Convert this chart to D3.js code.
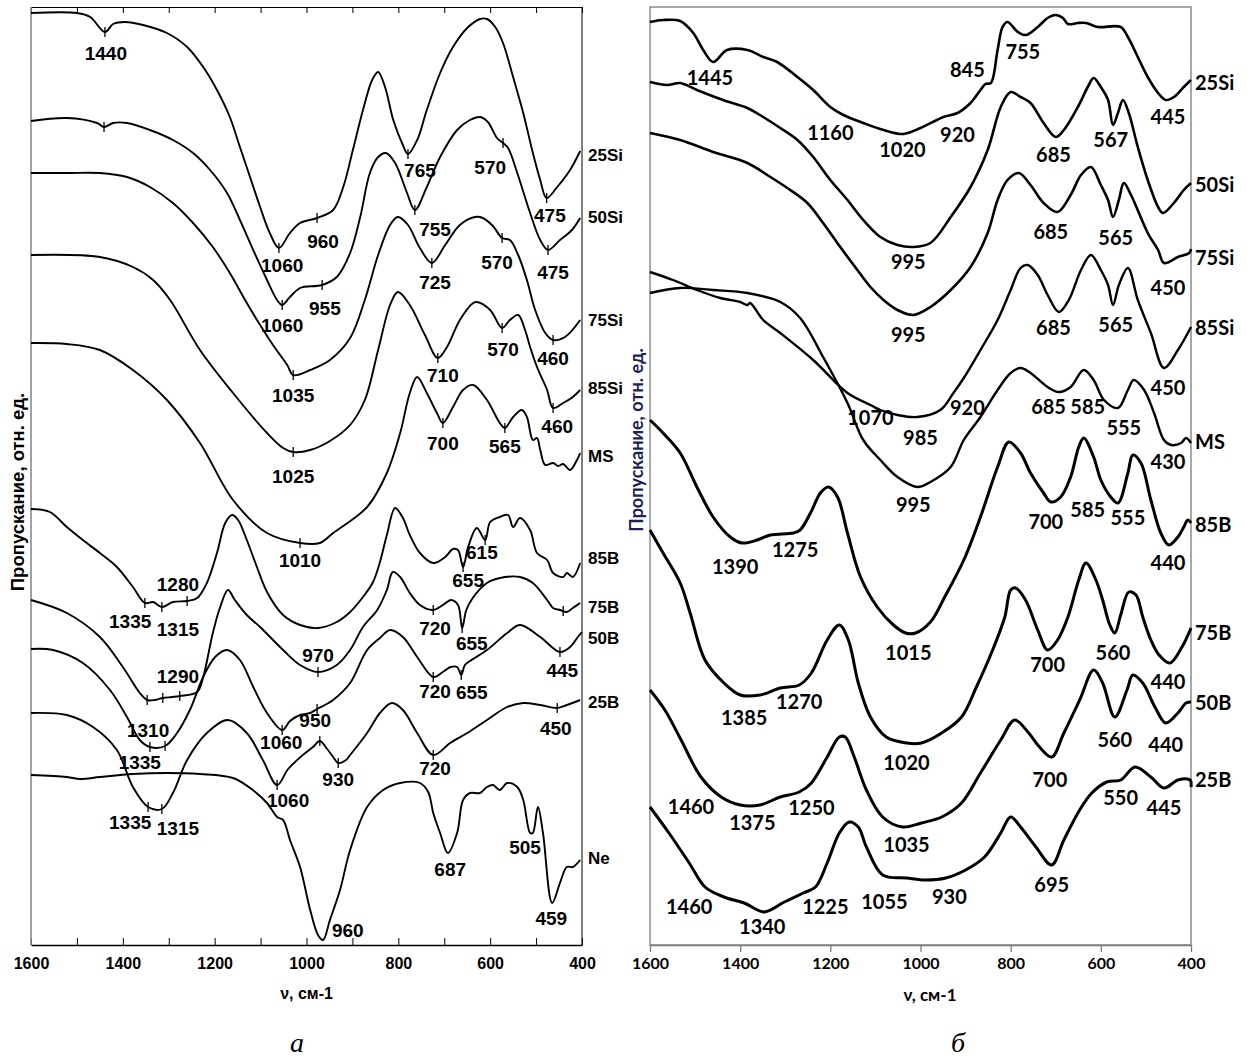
<!DOCTYPE html>
<html>
<head>
<meta charset="utf-8">
<script src="https://cdn.jsdelivr.net/npm/d3@7"></script>
<style>
  body { margin: 0; background: #fff; }
  svg { display: block; }
</style>
</head>
<body>
<div id="chart"></div>
<script>
// wavenumber (cm-1) / transmission (rel. units) pairs

// ---- panel a
const a25Si = [[1600,93.2],[1500,93.2],[1471,92.8],[1439,91.3],[1421,92.1],[1395,92.3],[1356,92.0],[1304,91.2],[1260,89.8],[1225,87.8],[1195,85.5],[1167,82.8],[1145,79.8],[1123,76.8],[1101,73.8],[1080,71.2],[1060,69.7],[1036,71.2],[1014,72.2],[977,72.7],[942,73.5],[920,75.8],[899,79.5],[877,83.5],[857,86.5],[844,87.3],[829,85.8],[811,82.5],[792,80.2],[779,79.1],[759,80.5],[738,83.5],[709,87.2],[681,89.8],[650,91.7],[622,92.6],[607,92.6],[589,91.8],[572,90.2],[550,86.8],[528,83.2],[507,79.2],[491,76.5],[477,74.7],[454,75.8],[426,77.5],[404,79.4]];
const a50Si = [[1600,82.4],[1522,82.7],[1456,82.2],[1441,81.8],[1421,82.2],[1391,82.2],[1341,81.5],[1291,80.5],[1247,79.2],[1210,77.5],[1173,75.2],[1145,72.5],[1116,69.5],[1086,66.5],[1064,64.5],[1053,64.0],[1036,64.8],[1014,65.7],[966,66.0],[934,66.8],[905,69.2],[883,72.8],[862,77.2],[844,78.8],[827,79.2],[807,78.2],[781,75.2],[764,73.5],[738,75.8],[709,78.8],[672,81.5],[644,82.5],[622,82.8],[605,82.3],[585,80.7],[572,80.2],[561,79.7],[541,77.2],[513,73.2],[491,70.5],[474,69.5],[448,70.5],[422,71.5],[404,72.7]];
const a75Si = [[1600,77.2],[1522,77.2],[1450,77.2],[1391,76.8],[1341,75.8],[1291,74.2],[1247,72.2],[1204,69.8],[1167,67.2],[1130,64.2],[1101,62.0],[1073,60.0],[1042,58.0],[1029,57.0],[992,57.5],[949,58.5],[905,60.7],[873,64.5],[844,69.0],[818,72.0],[801,72.8],[779,72.0],[753,69.7],[727,68.2],[698,70.0],[666,72.0],[633,72.8],[616,72.7],[594,71.9],[574,70.7],[557,70.5],[539,69.0],[520,66.5],[502,63.5],[480,61.2],[463,60.5],[437,60.8],[404,62.5]];
const a85Si = [[1600,69.0],[1450,68.8],[1378,67.8],[1334,66.5],[1297,64.5],[1232,59.5],[1160,55.2],[1086,51.2],[1051,49.7],[1029,49.3],[992,49.5],[949,50.4],[905,52.0],[873,54.5],[844,59.5],[818,64.0],[801,65.3],[775,64.0],[742,61.0],[714,58.7],[694,59.8],[666,62.5],[637,64.2],[629,64.3],[600,63.5],[574,61.7],[557,62.5],[539,63.0],[524,61.5],[513,59.8],[498,57.8],[476,55.5],[463,53.7],[441,54.2],[420,54.8],[404,55.5]];
const aMS = [[1600,60.2],[1522,60.1],[1450,59.5],[1378,57.5],[1304,54.5],[1232,50.2],[1160,44.5],[1086,41.2],[1014,40.2],[971,40.2],[942,41.2],[868,43.8],[825,47.2],[796,51.2],[775,55.2],[759,56.8],[738,55.2],[716,53.2],[703,52.2],[681,53.8],[659,55.5],[637,56.0],[607,54.5],[579,52.2],[568,51.7],[550,52.8],[531,53.5],[520,52.8],[507,50.5],[498,50.7],[491,49.5],[480,48.0],[463,48.2],[452,47.9],[441,48.1],[426,47.5],[411,48.5],[404,49.2]];
const a85B = [[1600,43.6],[1559,43.3],[1522,41.8],[1487,40.5],[1450,39.2],[1413,37.8],[1378,35.8],[1352,34.2],[1334,34.3],[1315,33.8],[1291,34.3],[1260,34.4],[1238,34.7],[1217,36.2],[1195,39.2],[1177,42.2],[1162,43.0],[1149,42.5],[1130,40.5],[1108,37.8],[1086,35.3],[1051,33.0],[1014,32.0],[975,31.7],[934,32.3],[905,33.3],[877,34.8],[855,36.3],[840,38.3],[825,41.0],[807,43.7],[790,42.7],[775,41.0],[753,39.2],[724,38.2],[698,38.8],[681,39.6],[670,39.5],[659,37.8],[648,39.8],[629,41.7],[611,40.5],[600,42.3],[579,42.8],[561,43.0],[550,41.8],[535,42.7],[513,41.5],[498,39.2],[476,38.5],[463,37.2],[441,36.8],[433,37.2],[420,36.8],[404,38.2]];
const a75B = [[1600,34.5],[1522,33.2],[1450,30.8],[1400,27.8],[1363,25.2],[1347,24.5],[1330,24.5],[1313,24.7],[1293,24.8],[1276,24.9],[1238,25.3],[1225,26.8],[1204,31.2],[1188,33.8],[1171,35.5],[1156,34.5],[1130,33.0],[1101,31.8],[1051,29.5],[1014,28.0],[975,27.3],[934,28.0],[905,29.5],[877,31.8],[846,33.5],[825,35.5],[812,37.3],[796,36.8],[775,35.2],[753,34.0],[724,33.5],[703,34.0],[685,34.5],[670,34.0],[661,31.7],[652,33.5],[638,34.7],[607,36.2],[579,36.7],[535,36.8],[507,36.2],[476,34.5],[463,33.7],[448,33.5],[433,33.3],[420,33.7],[404,34.2]];
const a50B = [[1600,29.6],[1552,29.5],[1487,28.2],[1428,25.5],[1391,22.8],[1363,20.5],[1341,19.8],[1308,19.9],[1282,21.2],[1254,23.5],[1225,26.8],[1199,28.8],[1173,29.5],[1145,28.5],[1116,25.8],[1086,23.2],[1053,21.5],[1036,22.4],[1014,23.0],[992,23.2],[977,23.6],[960,24.0],[942,24.5],[905,26.2],[868,29.5],[840,30.7],[818,31.5],[790,30.8],[759,28.8],[724,26.8],[703,27.3],[686,27.8],[672,27.8],[663,27.0],[655,28.0],[644,28.4],[607,29.5],[563,31.2],[535,32.0],[491,30.8],[448,29.3],[426,29.8],[409,30.8],[400,31.3]];
const a25B = [[1600,23.2],[1522,23.0],[1465,21.8],[1413,19.5],[1378,15.8],[1345,13.8],[1315,13.6],[1291,15.2],[1260,18.5],[1217,21.2],[1171,22.5],[1130,21.2],[1095,18.5],[1064,16.0],[1040,17.6],[1008,19.0],[986,19.8],[971,20.4],[955,19.6],[942,18.8],[931,18.2],[914,18.5],[905,19.0],[868,21.2],[840,23.2],[814,24.2],[790,23.5],[759,21.2],[724,19.0],[687,20.2],[650,21.2],[607,22.5],[563,23.8],[528,24.2],[491,24.0],[454,23.7],[433,24.0],[404,24.5]];
const aNe = [[1600,17.0],[1522,16.8],[1493,16.6],[1450,16.8],[1378,17.1],[1304,17.2],[1232,17.1],[1160,16.7],[1117,15.5],[1086,14.2],[1064,12.8],[1051,12.5],[1036,10.5],[1014,7.8],[992,3.5],[975,1.0],[964,0.5],[949,2.5],[927,5.5],[905,9.5],[868,13.8],[833,15.5],[796,16.2],[753,16.2],[735,15.3],[724,13.2],[709,11.2],[692,9.2],[672,11.2],[659,14.5],[644,15.2],[622,15.2],[607,15.8],[594,16.0],[579,15.5],[563,16.2],[541,15.8],[528,14.5],[513,11.2],[507,11.2],[496,13.8],[485,11.2],[465,4.2],[448,6.2],[433,7.8],[420,7.8],[404,8.5]];

// short "+" marks on the panel a curves
const a25SiTicks = [1439, 1060, 977, 779, 477];
const a50SiTicks = [1441, 1053, 966, 764, 572, 474];
const a75SiTicks = [1029, 727, 574, 463];
const a85SiTicks = [1029, 714, 574, 463];
const aMSTicks = [1014, 703, 568];
const a85BTicks = [1352, 1315, 1260, 659, 611];
const a75BTicks = [1347, 1313, 1276, 975, 724, 661, 441];
const a50BTicks = [1341, 1308, 1053, 977, 724, 663, 448];
const a25BTicks = [1345, 1315, 1064, 971, 931, 724, 454];

const aPeakLabels = [[1437,89.2,'1440'],[1053,68.0,'1060'],[964,70.4,'960'],[753,77.5,'765'],[600,77.8,'570'],[470,73.0,'475'],[720,71.6,'755'],[1053,62.0,'1060'],[960,63.7,'955'],[720,66.3,'725'],[585,68.3,'570'],[463,67.3,'475'],[1029,55.0,'1035'],[703,57.0,'710'],[572,59.6,'570'],[463,58.7,'460'],[1029,46.9,'1025'],[703,50.2,'700'],[568,49.9,'565'],[454,51.9,'460'],[1014,38.5,'1010'],[618,39.3,'615'],[648,36.5,'655'],[1280,36.1,'1280'],[1384,32.4,'1335'],[1280,31.6,'1315'],[720,31.7,'720'],[640,30.2,'655'],[975,29.0,'970'],[1280,26.9,'1290'],[443,27.5,'445'],[720,25.4,'720'],[640,25.3,'655'],[981,22.5,'950'],[1345,21.5,'1310'],[1055,20.3,'1060'],[457,21.7,'450'],[1363,18.3,'1335'],[720,17.7,'720'],[931,16.6,'930'],[1040,14.5,'1060'],[1384,12.3,'1335'],[1280,11.7,'1315'],[687,7.6,'687'],[524,9.8,'505'],[467,2.7,'459'],[910,1.5,'960']];

const aNames = ['25Si', '50Si', '75Si', '85Si', 'MS', '85B', '75B', '50B', '25B', 'Ne'];
const aNameLevels = [79.0, 72.8, 62.5, 55.7, 48.9, 38.7, 33.8, 30.7, 24.3, 8.7];

// ---- panel б
const b25Si = [[1600,92.3],[1571,92.5],[1533,92.4],[1504,91.2],[1482,89.5],[1460,88.3],[1429,89.5],[1384,89.5],[1349,88.8],[1318,88.3],[1273,86.8],[1238,85.5],[1200,83.8],[1171,83.0],[1127,82.2],[1082,81.5],[1038,81.1],[1000,81.7],[949,82.8],[918,83.2],[889,84.2],[867,85.5],[856,86.1],[844,86.2],[829,89.5],[818,91.8],[807,92.3],[784,91.3],[767,91.0],[740,91.8],[718,92.7],[700,93.0],[684,92.7],[673,92.1],[651,92.2],[633,92.2],[607,91.8],[556,91.8],[540,90.8],[518,88.8],[496,86.8],[473,85.2],[456,84.5],[438,84.8],[416,85.8],[400,86.5]];
const b50Si = [[1600,86.3],[1562,86.0],[1533,86.2],[1496,85.5],[1438,84.5],[1384,83.7],[1349,82.8],[1311,81.7],[1273,80.5],[1238,78.8],[1200,76.5],[1162,74.5],[1127,72.5],[1089,70.8],[1051,70.0],[1016,69.8],[978,70.2],[933,72.8],[889,75.8],[851,79.5],[822,83.8],[800,85.3],[778,84.8],[756,84.2],[727,82.2],[700,80.8],[682,81.5],[651,83.8],[629,85.8],[616,86.7],[600,85.8],[584,84.5],[573,82.0],[562,83.2],[551,84.5],[538,83.2],[518,79.8],[496,76.5],[473,73.8],[462,73.2],[438,74.2],[416,75.5],[400,76.2]];
const b75Si = [[1600,81.2],[1533,80.5],[1460,79.3],[1384,78.2],[1333,76.8],[1289,75.5],[1251,74.2],[1216,72.2],[1178,69.8],[1140,67.5],[1111,65.8],[1082,64.5],[1051,63.5],[1016,63.0],[978,63.8],[933,65.5],[889,67.8],[851,71.2],[829,74.5],[807,76.5],[782,77.2],[756,76.0],[727,74.2],[696,73.3],[667,75.0],[644,77.0],[622,77.8],[600,76.0],[584,74.5],[573,72.8],[560,74.5],[549,76.2],[533,75.0],[496,71.2],[473,69.5],[460,68.2],[429,68.8],[404,69.2],[400,69.6]];
const b85Si = [[1600,67.3],[1549,66.5],[1496,65.5],[1444,64.7],[1400,64.3],[1384,64.0],[1378,64.2],[1349,62.5],[1311,61.2],[1238,58.5],[1162,55.2],[1111,54.0],[1089,53.5],[1051,53.0],[1007,52.8],[956,53.5],[927,55.2],[904,56.7],[867,59.5],[829,62.5],[800,65.5],[778,67.7],[762,68.0],[740,67.0],[718,65.0],[693,63.3],[671,64.5],[644,67.5],[622,69.0],[600,67.5],[584,66.0],[573,64.0],[560,66.0],[540,67.7],[518,64.5],[489,61.2],[460,57.7],[429,59.5],[400,61.8]];
const bMS = [[1600,65.2],[1533,65.7],[1460,65.5],[1384,65.2],[1311,64.3],[1267,62.7],[1216,58.8],[1162,54.2],[1127,50.5],[1089,48.5],[1051,46.8],[1007,45.8],[978,46.3],[933,47.8],[904,50.5],[867,52.8],[829,55.5],[800,57.2],[778,57.7],[756,57.2],[718,55.8],[693,55.3],[667,55.8],[638,57.5],[616,56.5],[593,54.5],[562,53.7],[540,55.5],[527,56.5],[504,55.5],[482,53.2],[460,50.5],[444,50.0],[422,50.2],[411,50.7],[400,50.2]];
const b85B = [[1600,52.5],[1571,51.2],[1533,49.2],[1496,45.8],[1460,42.8],[1422,40.8],[1396,40.2],[1362,40.5],[1333,41.0],[1282,41.2],[1267,41.5],[1244,43.2],[1222,45.2],[1204,45.8],[1184,44.8],[1162,41.2],[1133,36.8],[1096,33.8],[1060,32.0],[1033,31.2],[1011,31.2],[978,32.3],[944,35.0],[904,38.5],[867,42.8],[829,47.8],[804,50.3],[778,49.2],[756,47.2],[727,45.2],[711,44.3],[689,44.8],[667,46.8],[649,49.8],[638,50.7],[616,48.8],[600,46.5],[578,44.8],[562,44.2],[540,47.2],[529,49.0],[511,48.2],[489,44.5],[467,41.2],[449,40.0],[429,40.8],[416,41.8],[407,42.5],[400,42.2]];
const b75B = [[1600,41.5],[1571,39.2],[1533,36.2],[1511,33.2],[1478,28.5],[1436,26.2],[1400,25.0],[1356,25.0],[1311,25.7],[1269,26.0],[1242,27.2],[1207,30.5],[1180,32.0],[1160,30.5],[1138,26.2],[1111,22.8],[1076,20.8],[1031,20.2],[998,20.2],[953,21.2],[909,22.8],[876,25.8],[840,29.5],[813,32.8],[800,35.5],[789,35.7],[767,34.5],[740,31.5],[718,29.5],[696,30.5],[673,32.8],[649,36.5],[633,38.2],[611,36.5],[596,34.5],[580,32.0],[569,31.2],[556,33.0],[538,35.3],[522,35.0],[507,32.8],[489,30.5],[471,29.0],[447,28.2],[420,29.8],[400,31.7]];
const b50B = [[1600,25.5],[1567,23.5],[1531,20.5],[1487,16.8],[1442,14.8],[1400,14.0],[1356,14.0],[1311,14.8],[1269,15.3],[1242,16.2],[1207,18.8],[1180,20.8],[1167,20.8],[1147,18.8],[1120,15.5],[1084,12.8],[1040,11.8],[998,12.2],[953,12.8],[909,14.2],[867,17.2],[822,20.5],[791,22.5],[760,21.2],[736,19.8],[709,18.8],[682,21.2],[647,24.5],[616,27.5],[596,26.2],[569,22.8],[542,25.5],[529,27.0],[507,26.2],[480,23.8],[456,22.2],[429,23.2],[411,24.2],[400,24.3]];
const b25B = [[1600,13.8],[1558,11.2],[1513,8.2],[1478,5.8],[1436,4.8],[1391,4.2],[1347,3.3],[1302,4.3],[1260,5.2],[1233,5.8],[1207,8.2],[1180,11.2],[1158,12.3],[1138,11.8],[1120,9.8],[1084,7.0],[1031,6.7],[989,6.5],[944,6.7],[900,7.5],[858,8.8],[822,11.2],[800,12.8],[778,11.8],[744,9.8],[709,8.0],[682,10.5],[647,13.5],[620,15.2],[587,16.3],[556,16.5],[524,17.8],[489,16.8],[460,15.7],[429,16.5],[402,16.5],[400,15.8]];

const bPeakLabels = [[1467,86.7,'1445'],[1200,81.2,'1160'],[1040,79.5,'1020'],[918,81.0,'920'],[896,87.5,'845'],[773,89.3,'755'],[451,82.8,'445'],[705,79.0,'685'],[578,80.5,'567'],[1027,68.3,'995'],[711,71.3,'685'],[567,70.7,'565'],[451,65.7,'450'],[1027,61.0,'995'],[705,61.7,'685'],[567,62.0,'565'],[451,55.7,'450'],[1111,52.7,'1070'],[1000,50.7,'985'],[896,53.7,'920'],[1016,44.0,'995'],[716,53.8,'685'],[629,53.8,'585'],[549,51.7,'555'],[451,48.3,'430'],[1411,37.8,'1390'],[1278,39.5,'1275'],[1027,29.2,'1015'],[722,42.3,'700'],[629,43.5,'585'],[540,42.7,'555'],[451,38.2,'440'],[1391,22.7,'1385'],[1269,24.3,'1270'],[1031,18.2,'1020'],[718,28.0,'700'],[573,29.2,'560'],[451,26.3,'440'],[1509,13.8,'1460'],[1373,12.2,'1375'],[1242,13.7,'1250'],[1031,10.0,'1035'],[713,16.5,'700'],[569,20.5,'560'],[456,20.0,'440'],[556,14.7,'550'],[460,13.7,'445'],[1513,3.8,'1460'],[1351,1.8,'1340'],[1211,3.8,'1225'],[1080,4.3,'1055'],[936,4.8,'930'],[709,6.0,'695']];

const bNames = ['25Si', '50Si', '75Si', '85Si', 'MS', '85B', '75B', '50B', '25B'];
const bNameLevels = [86.2, 76.0, 68.7, 61.7, 50.3, 42.0, 31.2, 24.2, 16.5];

const nuTicksMinor = d3.range(1600, 399, -100);
const nuTicksMajor = d3.range(1600, 399, -200);

const width = 1247, height = 1059;
const svg = d3.select('#chart').append('svg')
    .attr('width', width)
    .attr('height', height);

const yScale = d3.scaleLinear().domain([0, 93.8]).range([945, 7]);

function valueAt(data, nu) {
  for (let i = 0; i < data.length - 1; i++) {
    const [n0, t0] = data[i], [n1, t1] = data[i + 1];
    if (nu <= n0 && nu >= n1) return t0 + (t1 - t0) * (n0 - nu) / (n0 - n1);
  }
  return data[data.length - 1][1];
}

// ================= panel a =================
const xa = d3.scaleLinear().domain([1600, 400]).range([31, 582]);
const ga = svg.append('g').attr('class', 'panel-a');

ga.append('g')
    .attr('transform', `translate(0,${yScale(0)})`)
    .call(d3.axisBottom(xa).tickValues(nuTicksMinor).tickSizeInner(-7).tickSizeOuter(0).tickPadding(13)
      .tickFormat(d => d % 200 === 0 ? d : ''))
    .call(g => g.select('.domain').attr('stroke', '#000').attr('stroke-width', 1.3))
    .call(g => g.selectAll('.tick line').attr('stroke', '#000'))
    .call(g => g.selectAll('text').attr('font-family', 'Liberation Sans, Arial, sans-serif')
      .attr('font-size', 16).attr('font-weight', 'bold').attr('fill', '#000'));

ga.append('g')
    .attr('transform', `translate(0,${yScale(93.8)})`)
    .call(d3.axisTop(xa).tickValues(nuTicksMinor).tickSizeInner(-6).tickSizeOuter(0).tickFormat(''))
    .call(g => g.select('.domain').attr('stroke', '#000'))
    .call(g => g.selectAll('.tick line').attr('stroke', '#000'));

ga.append('line')
    .attr('x1', xa(1600)).attr('x2', xa(1600))
    .attr('y1', yScale(93.8)).attr('y2', yScale(0))
    .attr('stroke', '#8a8a8a').attr('stroke-width', 1.6);
ga.append('line')
    .attr('x1', xa(400)).attr('x2', xa(400))
    .attr('y1', yScale(93.8)).attr('y2', yScale(0))
    .attr('stroke', '#000').attr('stroke-width', 1);

const aSeries = [
  {data: a25Si, ticks: a25SiTicks}, {data: a50Si, ticks: a50SiTicks},
  {data: a75Si, ticks: a75SiTicks}, {data: a85Si, ticks: a85SiTicks},
  {data: aMS, ticks: aMSTicks}, {data: a85B, ticks: a85BTicks},
  {data: a75B, ticks: a75BTicks}, {data: a50B, ticks: a50BTicks},
  {data: a25B, ticks: a25BTicks}, {data: aNe, ticks: []}
];

const lineA = d3.line()
    .x(d => xa(d[0]))
    .y(d => yScale(d[1]))
    .curve(d3.curveCatmullRom.alpha(0.5));

ga.append('g')
  .selectAll('path')
    .data(aSeries)
  .enter().append('path')
    .attr('d', d => lineA(d.data))
    .attr('fill', 'none')
    .attr('stroke', '#000')
    .attr('stroke-width', 1.9)
    .attr('stroke-linejoin', 'round');

ga.append('g')
  .selectAll('line')
    .data(aSeries.flatMap(s => s.ticks.map(nu => [nu, valueAt(s.data, nu)])))
  .enter().append('line')
    .attr('x1', d => xa(d[0])).attr('x2', d => xa(d[0]))
    .attr('y1', d => yScale(d[1]) - 5).attr('y2', d => yScale(d[1]) + 5)
    .attr('stroke', '#000').attr('stroke-width', 1.3);

ga.append('g')
    .attr('font-family', 'Liberation Sans, Arial, sans-serif')
    .attr('font-size', 19)
    .attr('font-weight', 'bold')
    .attr('text-anchor', 'middle')
  .selectAll('text')
    .data(aPeakLabels)
  .enter().append('text')
    .attr('x', d => xa(d[0]))
    .attr('y', d => yScale(d[1]))
    .attr('dy', '0.35em')
    .text(d => d[2]);

ga.append('g')
    .attr('font-family', 'Liberation Sans, Arial, sans-serif')
    .attr('font-size', 17)
    .attr('font-weight', 'bold')
  .selectAll('text')
    .data(aNames)
  .enter().append('text')
    .attr('x', xa(400) + 6)
    .attr('y', (d, i) => yScale(aNameLevels[i]))
    .attr('dy', '0.35em')
    .text(d => d);

ga.append('text')
    .attr('x', (xa(1600) + xa(400)) / 2)
    .attr('y', 999)
    .attr('text-anchor', 'middle')
    .attr('font-family', 'Liberation Sans, Arial, sans-serif')
    .attr('font-size', 16).attr('font-weight', 'bold')
    .text('ν, см-1');

ga.append('text')
    .attr('transform', `translate(24,${yScale(45.3)}) rotate(-90)`)
    .attr('text-anchor', 'middle')
    .attr('font-family', 'Liberation Sans, Arial, sans-serif')
    .attr('font-size', 18.5).attr('font-weight', 'bold')
    .text('Пропускание, отн. ед.');

ga.append('text')
    .attr('x', 297).attr('y', 1052)
    .attr('text-anchor', 'middle')
    .attr('font-family', 'Liberation Serif, Times New Roman, serif')
    .attr('font-style', 'italic')
    .attr('font-size', 28)
    .text('а');

// ================= panel б =================
const xb = d3.scaleLinear().domain([1600, 400]).range([650, 1191]);
const gb = svg.append('g').attr('class', 'panel-b');

gb.append('rect')
    .attr('x', xb(1600)).attr('y', yScale(93.8))
    .attr('width', xb(400) - xb(1600)).attr('height', yScale(0) - yScale(93.8))
    .attr('fill', 'none').attr('stroke', '#7a7a7a').attr('stroke-width', 1.3);

gb.append('g')
    .attr('transform', `translate(0,${yScale(0)})`)
    .call(d3.axisBottom(xb).tickValues(nuTicksMajor).tickSizeInner(7).tickSizeOuter(0).tickPadding(6)
      .tickFormat(d3.format('d')))
    .call(g => g.select('.domain').attr('stroke', '#7a7a7a').attr('stroke-width', 1.3))
    .call(g => g.selectAll('.tick line').attr('stroke', '#7a7a7a').attr('stroke-width', 1.3))
    .call(g => g.selectAll('text').attr('font-family', 'Lato, Carlito, sans-serif')
      .attr('font-size', 16).attr('font-weight', 'bold').attr('fill', '#000'));

const bSeries = [
  {data: b25Si, w: 2.6}, {data: b50Si, w: 2.6}, {data: b75Si, w: 2.6},
  {data: b85Si, w: 2.4}, {data: bMS, w: 2.4}, {data: b85B, w: 3},
  {data: b75B, w: 3}, {data: b50B, w: 3}, {data: b25B, w: 3}
];

const lineB = d3.line()
    .x(d => xb(d[0]))
    .y(d => yScale(d[1]))
    .curve(d3.curveCatmullRom.alpha(0.5));

gb.append('g')
  .selectAll('path')
    .data(bSeries)
  .enter().append('path')
    .attr('d', d => lineB(d.data))
    .attr('fill', 'none')
    .attr('stroke', '#000')
    .attr('stroke-width', d => d.w)
    .attr('stroke-linejoin', 'round');

gb.append('g')
    .attr('font-family', 'Lato, Carlito, sans-serif')
    .attr('font-size', 20)
    .attr('font-weight', 'bold')
    .attr('text-anchor', 'middle')
  .selectAll('text')
    .data(bPeakLabels)
  .enter().append('text')
    .attr('x', d => xb(d[0]))
    .attr('y', d => yScale(d[1]))
    .attr('dy', '0.35em')
    .text(d => d[2]);

gb.append('g')
    .attr('font-family', 'Lato, Carlito, sans-serif')
    .attr('font-size', 20)
    .attr('font-weight', 'bold')
  .selectAll('text')
    .data(bNames)
  .enter().append('text')
    .attr('x', xb(400) + 4)
    .attr('y', (d, i) => yScale(bNameLevels[i]))
    .attr('dy', '0.35em')
    .text(d => d);

gb.append('text')
    .attr('x', 930)
    .attr('y', 1001)
    .attr('text-anchor', 'middle')
    .attr('font-family', 'Lato, Carlito, sans-serif')
    .attr('font-size', 17).attr('font-weight', 'bold')
    .text('ν, см-1');

gb.append('text')
    .attr('transform', `translate(643,${yScale(50.5)}) rotate(-90)`)
    .attr('text-anchor', 'middle')
    .attr('font-family', 'Lato, Carlito, sans-serif')
    .attr('font-size', 18).attr('font-weight', 'bold')
    .attr('fill', '#1b2356')
    .text('Пропускание, отн. ед.');

gb.append('text')
    .attr('x', 958).attr('y', 1052)
    .attr('text-anchor', 'middle')
    .attr('font-family', 'Liberation Serif, Times New Roman, serif')
    .attr('font-style', 'italic')
    .attr('font-size', 28)
    .text('б');
</script>
</body>
</html>
